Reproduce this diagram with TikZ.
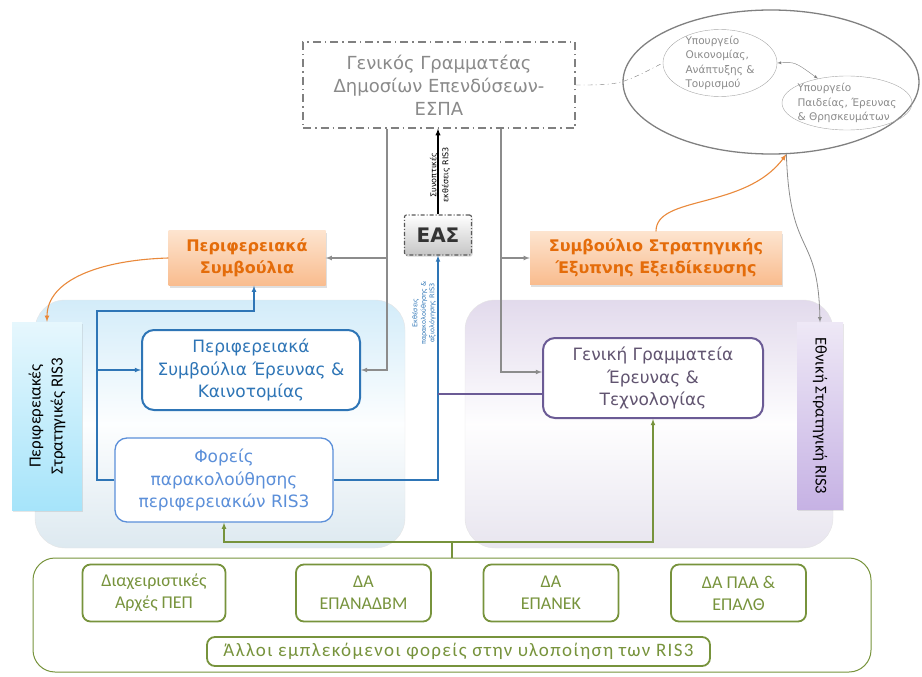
\documentclass[tikz,border=0pt]{standalone}
\usepackage{fontspec}
\setmainfont{DejaVu Sans}
\newfontfamily\narrowfont{Carlito}
\usepackage{tikz}
\usetikzlibrary{arrows, shapes.geometric, shadows, positioning}

\definecolor{grayln}{HTML}{8C8C8C}
\definecolor{txtgray}{HTML}{8A8A8A}
\definecolor{bluedk}{HTML}{2E75B6}
\definecolor{bluelt}{HTML}{5B8FD9}
\definecolor{purpdk}{HTML}{6B5B95}
\definecolor{purptx}{HTML}{615470}
\definecolor{greenln}{HTML}{77933C}
\definecolor{orangetx}{HTML}{E46C0A}
\definecolor{orangetop}{HTML}{FDE4CF}
\definecolor{orangebot}{HTML}{F9BC8E}
\definecolor{cyantop}{HTML}{E6F7FD}
\definecolor{cyanbot}{HTML}{A6E4FA}
\definecolor{lavtop}{HTML}{EEE8F6}
\definecolor{lavbot}{HTML}{C6B2E4}
\definecolor{panelbl}{HTML}{D3ECF9}
\definecolor{panelblb}{HTML}{DDE9F0}
\definecolor{panelpu}{HTML}{E2DAEC}
\definecolor{panelpub}{HTML}{E8E5EF}

\tikzset{
  orbox/.style={top color=orangetop, bottom color=orangebot, text=orangetx,
    align=center, font=\bfseries\fontsize{16}{22}\selectfont,
    drop shadow={opacity=0.25, shadow xshift=1pt, shadow yshift=-2pt}},
  inbox/.style={rounded corners=12pt, fill=white, align=center,
    font=\fontsize{17}{22.5}\selectfont},
  grbox/.style={draw=greenln, line width=1.8pt, rounded corners=8pt, text=greenln,
    align=center, font=\narrowfont\fontsize{18}{22}\selectfont},
  gline/.style={grayln, line width=1.1pt},
  bline/.style={bluedk, line width=1.1pt},
}

\begin{document}
\begin{tikzpicture}[x=1pt, y=-1pt, >=latex]
\useasboundingbox (0,0) rectangle (922,677);

% panels
\node[rounded corners=30pt, draw=gray!20, top color=panelbl, bottom color=panelblb,
  middle color=white!94!panelbl, minimum width=370pt, minimum height=248pt] (lpanel) at (220,424) {};
\node[rounded corners=30pt, draw=gray!20, top color=panelpu, bottom color=panelpub,
  middle color=white!96!panelpu, minimum width=368pt, minimum height=248pt] (rpanel) at (649,424) {};

% top
\node[draw=gray, line width=1.2pt, dash pattern=on 8pt off 4pt on 1.5pt off 4pt, text=txtgray,
  minimum width=272pt, minimum height=86pt, align=center,
  font=\fontsize{18}{23}\selectfont] (gsde) at (439,85) {Γενικός Γραμματέας\\Δημοσίων Επενδύσεων-\\ΕΣΠΑ};

\node[ellipse, draw=gray, line width=1.3pt, minimum width=296pt, minimum height=144pt] (ypour) at (771,82) {};
\node[ellipse, draw=gray!70, minimum width=114pt, minimum height=67pt] (yoik) at (720,63) {};
\node[align=left, text=txtgray, font=\fontsize{10.5}{14.5}\selectfont] (yoiktxt) at (yoik) {Υπουργείο\\Οικονομίας,\\Ανάπτυξης \&\\Τουρισμού};
\node[ellipse, draw=gray!70, minimum width=130pt, minimum height=54pt] (yped) at (847,103) {};
\node[align=left, text=txtgray, font=\fontsize{10.5}{14.5}\selectfont] (ypedtxt) at (yped) {Υπουργείο\\Παιδείας, Έρευνας\\\& Θρησκευμάτων};

\draw[<->, gray, thin] (yoik.east) .. controls (795,62) .. (yped.140);
\draw[gray, dash pattern=on 5pt off 3pt on 1pt off 3pt] (gsde.east) .. controls (620,85) .. (yoik.west);

% EAS
\node[draw=black!65, line width=1.2pt, dash pattern=on 4pt off 2pt on 1pt off 2pt,
  top color=white, bottom color=gray!45, rounded corners=2pt, minimum width=67pt, minimum height=40pt,
  text=black!80, font=\bfseries\fontsize{20}{22}\selectfont,
  drop shadow={opacity=0.3, shadow xshift=1pt, shadow yshift=-1.5pt}] (eas) at (438,235) {ΕΑΣ};

\draw[->, black, line width=1.3pt] (eas.north) -- (eas.north |- gsde.south);
\node[rotate=90, align=center, font=\fontsize{8}{12}\selectfont] (synlbl) at (440,175) {Συνοπτικές\\εκθέσεις RIS3};

% orange
\node[orbox, minimum width=157pt, minimum height=55pt] (pers) at (247,258) {Περιφερειακά\\Συμβούλια};
\node[orbox, minimum width=252pt, minimum height=53pt] (sse) at (656,258) {Συμβούλιο Στρατηγικής\\Έξυπνης Εξειδίκευσης};

% side boxes
\node[rotate=90, top color=cyantop, bottom color=cyanbot, minimum width=188pt, minimum height=70pt,
  align=center, font=\narrowfont\fontsize{17}{22}\selectfont,
  drop shadow={opacity=0.2, shadow xshift=1pt, shadow yshift=-1.5pt}] (perstr) at (47,416) {Περιφερειακές\\Στρατηγικές RIS3};
\node[rotate=-90, top color=lavtop, bottom color=lavbot, minimum width=187pt, minimum height=46pt,
  font=\narrowfont\fontsize{16.5}{20}\selectfont,
  drop shadow={opacity=0.2, shadow xshift=1pt, shadow yshift=-1.5pt}] (natstr) at (820,416) {Εθνική Στρατηγική RIS3};

% inner boxes
\node[inbox, draw=bluedk, line width=2pt, text=bluedk, minimum width=218pt, minimum height=80pt] (psek) at (251,370) {Περιφερειακά\\Συμβούλια Έρευνας \&\\Καινοτομίας};
\node[inbox, draw=bluelt, line width=1.3pt, text=bluelt, minimum width=218pt, minimum height=84pt] (foreis) at (224,480) {Φορείς\\παρακολούθησης\\περιφερειακών RIS3};
\node[inbox, draw=purpdk, line width=2pt, text=purptx, minimum width=220pt, minimum height=80pt] (gget) at (653,378) {Γενική Γραμματεία\\Έρευνας \&\\Τεχνολογίας};

% bottom
\node[draw=greenln, line width=1pt, rounded corners=22pt, minimum width=838pt, minimum height=114pt] (allo) at (452,615) {};
\foreach \nm/\x/\w/\txt in {dia/154/143/{Διαχειριστικές\\Αρχές ΠΕΠ}, epan/363.5/135/{ΔΑ\\ΕΠΑΝΑΔΒΜ},
    epanek/551/135/{ΔΑ\\ΕΠΑΝΕΚ}, paa/738.5/135/{ΔΑ ΠΑΑ \&\\ΕΠΑΛΘ}} {
  \node[grbox, minimum width=\w pt, minimum height=57pt] (\nm) at (\x,593) {\txt};
}
\node[grbox, minimum width=503pt, minimum height=29pt,
  font=\narrowfont\fontsize{19}{22}\selectfont\addfontfeature{LetterSpace=7}] (allofor) at (458.5,651.5) {Άλλοι εμπλεκόμενοι φορείς στην υλοποίηση των RIS3};

% gray connectors
\draw[gline, ->] ([xshift=-52pt]gsde.south) |- (psek.east);
\draw[gline, ->] ([xshift=-52pt]gsde.south |- pers.east) -- (pers.east);
\draw[gline, ->] ([xshift=62pt]gsde.south) |- ([yshift=6pt]gget.west);
\draw[gline, ->] ([xshift=62pt]gsde.south |- sse.west) -- (sse.west);

% blue connectors
\coordinate (bturn) at (97,311);
\draw[bline, ->] (foreis.east) -| (eas.south);
\draw[bline, ->] (foreis.west) -| (bturn) -| ([xshift=7pt]pers.south);
\draw[bline, ->] (bturn |- psek.west) -- (psek.west);
\node[rotate=90, align=center, text=bluedk, font=\fontsize{6.5}{8.5}\selectfont] (ekthlbl) at (424,313) {Εκθέσεις\\παρακολούθησης \&\\αξιολόγησης RIS3};

\draw[purpdk, line width=1.1pt] ([yshift=-16pt]gget.west) -- ([yshift=-16pt]gget.west -| eas.south);

% green connectors
\coordinate (gjoin) at (452,542);
\draw[greenln, line width=1.1pt] (allo.north) -- (gjoin);
\draw[greenln, line width=1.1pt, ->] (gjoin) -| (foreis.south);
\draw[greenln, line width=1.1pt, ->] (gjoin) -| (gget.south);

% curves
\draw[orangetx!80, line width=1.1pt, ->] (pers.west) .. controls (100,260) and (47,280) .. (perstr.east);
\draw[orangetx!80, line width=1.1pt, ->] (sse.north) .. controls (656,195) and (745,210) .. (ypour.282);
\draw[grayln, line width=0.8pt, ->] (ypour.282) .. controls (790,260) and (818,230) .. (natstr.west);

\end{tikzpicture}
\end{document}
